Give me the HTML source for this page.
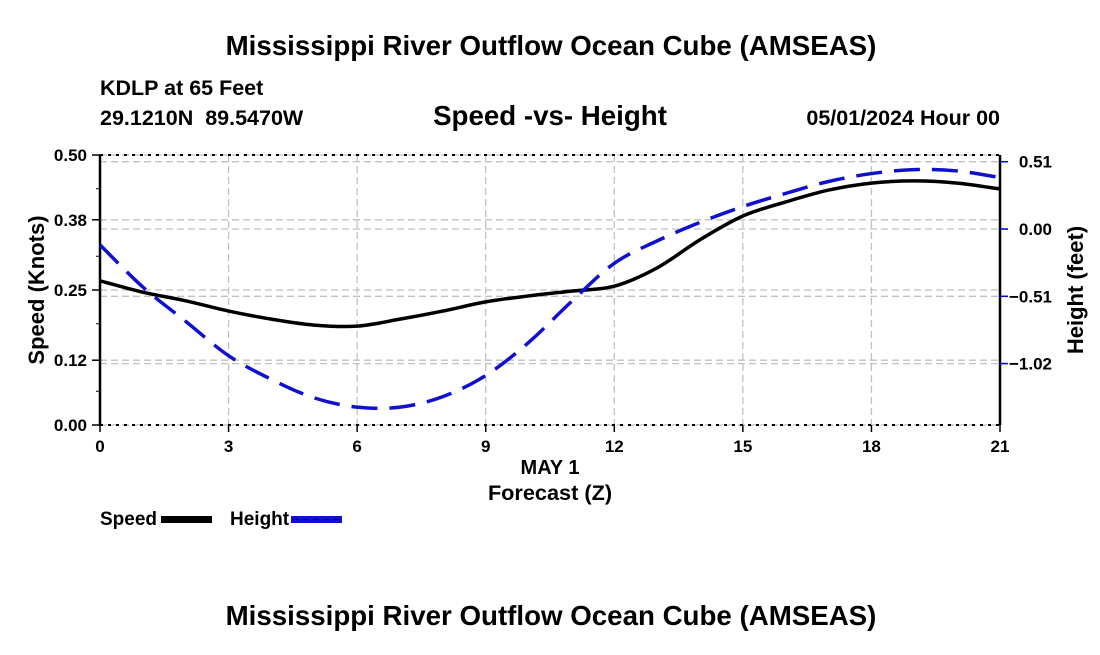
<!DOCTYPE html>
<html><head><meta charset="utf-8"><style>
body{margin:0;background:#fff;width:1100px;height:650px;overflow:hidden}
svg text{font-family:"Liberation Sans",sans-serif;font-weight:bold;fill:#000;white-space:pre}
</style></head><body>
<svg id="chart" width="1100" height="650" viewBox="0 0 1100 650" xmlns="http://www.w3.org/2000/svg">
<text x="551" y="55" font-size="27.7" text-anchor="middle">Mississippi River Outflow Ocean Cube (AMSEAS)</text>
<text x="100" y="95" font-size="21.5">KDLP at 65 Feet</text>
<text x="100" y="125" font-size="21.5" xml:space="preserve">29.1210N  89.5470W</text>
<text x="550" y="125" font-size="27.7" text-anchor="middle">Speed -vs- Height</text>
<text x="1000" y="125" font-size="21.5" text-anchor="end">05/01/2024 Hour 00</text>
<g id="grid"></g>
<g id="axes"></g>
<g id="series"></g>
<text transform="translate(44,290) rotate(-90)" font-size="22" text-anchor="middle">Speed (Knots)</text>
<text transform="translate(1083,290) rotate(-90)" font-size="22" text-anchor="middle">Height (feet)</text>
<text x="550" y="474" font-size="20" text-anchor="middle">MAY 1</text>
<text x="550" y="500" font-size="21.7" text-anchor="middle">Forecast (Z)</text>
<g>
<text x="100" y="525" font-size="19">Speed</text>
<rect x="161" y="516" width="51" height="7" fill="#000"/>
<text x="230" y="525" font-size="19">Height</text>
<rect x="291" y="516" width="51" height="7" fill="#1010d0"/>
<line x1="293" y1="519.5" x2="342" y2="519.5" stroke="#000080" stroke-width="1" stroke-dasharray="6,4"/>
</g>
<text x="551" y="625" font-size="27.7" text-anchor="middle">Mississippi River Outflow Ocean Cube (AMSEAS)</text>
</svg>
<script>
const hours=[0,1,2,3,4,5,6,7,8,9,10,11,12,13,14,15,16,17,18,19,20,21];
const speedValues=[0.267,0.246,0.230,0.211,0.196,0.185,0.183,0.196,0.211,0.228,0.239,0.248,0.257,0.291,0.343,0.387,0.413,0.435,0.448,0.452,0.448,0.437];
const heightValues=[-0.12,-0.44,-0.70,-0.96,-1.14,-1.28,-1.35,-1.35,-1.27,-1.11,-0.86,-0.55,-0.26,-0.09,0.05,0.17,0.27,0.36,0.42,0.45,0.44,0.39];
const speedTicks=[0,0.12,0.25,0.38,0.50];
const speedTickLabels=["0.00","0.12","0.25","0.38","0.50"];
const heightTicks=[-1.02,-0.51,0,0.51];
const heightTickLabels=["\u22121.02","\u22120.51","0.00","0.51"];
const xTicks=[0,3,6,9,12,15,18,21];

const L=100,R=1000,T=155,B=425;
const NS="http://www.w3.org/2000/svg";
const x=h=>L+(h/21)*(R-L);
const yS=v=>B-(v/0.5)*(B-T);
const yH=v=>229-(v/0.51)*67.3;
function mk(tag,attrs,parent){const e=document.createElementNS(NS,tag);for(const k in attrs)e.setAttribute(k,attrs[k]);parent.appendChild(e);return e;}
const grid=document.getElementById('grid'),axes=document.getElementById('axes'),series=document.getElementById('series');
const gs={stroke:"#c0c0c0","stroke-width":1.3,"stroke-dasharray":"7,4",fill:"none"};
speedTicks.forEach(v=>{const l=mk('line',Object.assign({x1:L,x2:R,y1:yS(v),y2:yS(v)},gs),grid);

});
heightTicks.forEach(v=>{const l=mk('line',Object.assign({x1:L,x2:R,y1:yH(v),y2:yH(v)},gs),grid);

});
xTicks.forEach(h=>{const l=mk('line',Object.assign({x1:x(h),x2:x(h),y1:T,y2:B},gs),grid);

});
[[L,T,L,B],[R,T,R,B]].forEach(a=>{const l=mk('line',{x1:a[0],y1:a[1],x2:a[2],y2:a[3],stroke:"#000","stroke-width":2.5},axes);

});
[T,B].forEach(y=>{const l=mk('line',{x1:L,y1:y,x2:R,y2:y,stroke:"#000","stroke-width":2,"stroke-dasharray":"3,5"},axes);

});
speedTicks.forEach((v,i)=>{mk('line',{x1:L-8,x2:L,y1:yS(v),y2:yS(v),stroke:"#000","stroke-width":1.5},axes);
const t=mk('text',{x:L-13,y:yS(v)+6,"font-size":17,"text-anchor":"end"},axes);t.textContent=speedTickLabels[i];

});
for(let v=0.0625;v<0.5;v+=0.125){mk('line',{x1:L-4,x2:L,y1:yS(v),y2:yS(v),stroke:"#000","stroke-width":1},axes);}
heightTicks.forEach((v,i)=>{mk('line',{x1:R,x2:R+8,y1:yH(v),y2:yH(v),stroke:"#0000c0","stroke-width":1.5},axes);
const t=mk('text',{x:R+52,y:yH(v)+6,"font-size":17,"text-anchor":"end"},axes);t.textContent=heightTickLabels[i];

});
xTicks.forEach(h=>{mk('line',{x1:x(h),x2:x(h),y1:B,y2:B+7,stroke:"#000","stroke-width":1.5},axes);
const t=mk('text',{x:x(h),y:B+27,"font-size":17,"text-anchor":"middle"},axes);t.textContent=String(h);

});
function smooth(pts){let d=`M${pts[0][0]},${pts[0][1]}`;for(let i=0;i<pts.length-1;i++){const p0=pts[i-1]||pts[i],p1=pts[i],p2=pts[i+1],p3=pts[i+2]||p2;
const c1=[p1[0]+(p2[0]-p0[0])/6,p1[1]+(p2[1]-p0[1])/6],c2=[p2[0]-(p3[0]-p1[0])/6,p2[1]-(p3[1]-p1[1])/6];
d+=` C${c1[0]},${c1[1]} ${c2[0]},${c2[1]} ${p2[0]},${p2[1]}`;}return d;}
const sp=mk('path',{d:smooth(hours.map((h,i)=>[x(h),yS(speedValues[i])])),stroke:"#000","stroke-width":3.5,fill:"none"},series);


const hp=mk('path',{d:smooth(hours.map((h,i)=>[x(h),yH(heightValues[i])])),stroke:"#1010d0","stroke-width":3.5,fill:"none","stroke-dasharray":"26,12"},series);


</script>
</body></html>
